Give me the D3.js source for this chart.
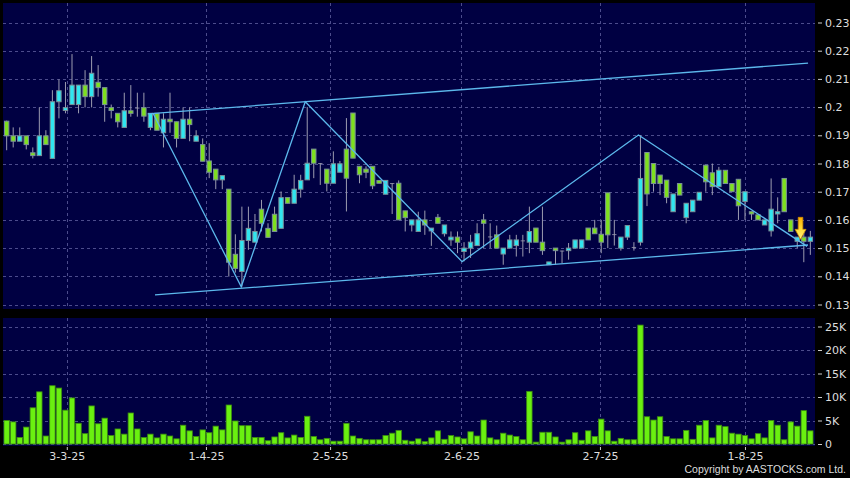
<!DOCTYPE html>
<html><head><meta charset="utf-8">
<script src="https://cdn.jsdelivr.net/npm/d3@7"></script>
<style>html,body{margin:0;padding:0;background:#000;}svg{display:block}</style>
</head><body>
<svg id="c" width="850" height="478"></svg>
<script>
// ---- data ----
const opens = [0.1950,0.1898,0.1879,0.1898,0.1838,0.1828,0.1898,0.1818,0.2019,0.1988,
0.2009,0.2009,0.2078,0.2037,0.2088,0.2069,0.1998,0.1978,0.1928,0.1987,
0.1998,0.1998,0.1928,0.1978,0.1909,0.1957,0.1948,0.1889,0.1957,0.1879,
0.1867,0.1809,0.1780,0.1742,0.1709,0.1478,0.1417,0.1527,0.1521,0.1638,
0.1570,0.1620,0.1570,0.1679,0.1659,0.1709,0.1742,0.1851,0.1801,0.1780,
0.1730,0.1769,0.1851,0.1979,0.1790,0.1780,0.1790,0.1740,0.1691,0.1730,
0.1730,0.1632,0.1582,0.1559,0.1600,0.1561,0.1609,0.1551,0.1529,0.1539,
0.1488,0.1500,0.1509,0.1600,0.1541,0.1547,0.1479,0.1500,0.1509,0.1527,
0.1521,0.1571,0.1521,0.1441,0.1500,0.1491,0.1491,0.1500,0.1500,0.1571,
0.1571,0.1549,0.1696,0.1549,0.1500,0.1539,0.1504,0.1521,0.1839,0.1800,
0.1759,0.1741,0.1629,0.1729,0.1608,0.1629,0.1670,0.1794,0.1767,0.1718,
0.1776,0.1729,0.1744,0.1665,0.1629,0.1618,0.1582,0.1561,0.1621,0.1747,
0.1600,0.1524,0.1539,0.1524];
const highs = [0.1952,0.1928,0.1928,0.1898,0.1857,0.1999,0.1918,0.2060,0.2098,0.2089,
0.2188,0.2078,0.2131,0.2181,0.2149,0.2069,0.2009,0.1978,0.2051,0.2078,
0.2051,0.2051,0.1978,0.1978,0.1978,0.2051,0.1948,0.1999,0.1999,0.1918,
0.1889,0.1872,0.1780,0.1757,0.1709,0.1549,0.1647,0.1647,0.1621,0.1671,
0.1588,0.1647,0.1701,0.1679,0.1760,0.1760,0.2000,0.1851,0.1801,0.1780,
0.1843,0.1809,0.1961,0.1979,0.1790,0.1790,0.1790,0.1740,0.1740,0.1730,
0.1740,0.1632,0.1600,0.1629,0.1633,0.1571,0.1621,0.1582,0.1559,0.1559,
0.1521,0.1547,0.1588,0.1621,0.1588,0.1580,0.1500,0.1547,0.1547,0.1547,
0.1647,0.1571,0.1647,0.1451,0.1500,0.1491,0.1518,0.1529,0.1529,0.1571,
0.1600,0.1600,0.1696,0.1600,0.1539,0.1580,0.1521,0.1900,0.1839,0.1800,
0.1759,0.1741,0.1692,0.1729,0.1659,0.1670,0.1698,0.1794,0.1800,0.1788,
0.1776,0.1729,0.1744,0.1700,0.1629,0.1618,0.1600,0.1747,0.1680,0.1747,
0.1600,0.1539,0.1565,0.1561];
const lows = [0.1847,0.1857,0.1879,0.1850,0.1818,0.1828,0.1867,0.1818,0.1960,0.1978,
0.2009,0.1978,0.1999,0.1999,0.2037,0.1948,0.1960,0.1928,0.1928,0.1966,
0.1966,0.1948,0.1918,0.1918,0.1857,0.1909,0.1857,0.1889,0.1879,0.1879,
0.1808,0.1748,0.1709,0.1709,0.1399,0.1413,0.1363,0.1494,0.1521,0.1559,
0.1538,0.1559,0.1570,0.1659,0.1659,0.1679,0.1742,0.1748,0.1724,0.1701,
0.1730,0.1769,0.1630,0.1819,0.1730,0.1748,0.1709,0.1730,0.1691,0.1621,
0.1600,0.1559,0.1559,0.1559,0.1547,0.1508,0.1588,0.1541,0.1508,0.1482,
0.1453,0.1465,0.1509,0.1500,0.1500,0.1500,0.1441,0.1500,0.1470,0.1470,
0.1482,0.1521,0.1476,0.1441,0.1441,0.1447,0.1459,0.1500,0.1500,0.1529,
0.1551,0.1482,0.1500,0.1509,0.1491,0.1529,0.1491,0.1509,0.1649,0.1700,
0.1688,0.1659,0.1629,0.1688,0.1588,0.1629,0.1670,0.1700,0.1688,0.1718,
0.1729,0.1700,0.1600,0.1600,0.1600,0.1600,0.1582,0.1541,0.1588,0.1629,
0.1559,0.1500,0.1450,0.1476];
const closes = [0.1898,0.1879,0.1898,0.1867,0.1828,0.1898,0.1867,0.2019,0.2058,0.1998,
0.2078,0.2078,0.2037,0.2120,0.2069,0.2009,0.1988,0.1948,0.1987,0.1978,
0.1998,0.1968,0.1978,0.1918,0.1957,0.1948,0.1889,0.1957,0.1938,0.1898,
0.1808,0.1769,0.1742,0.1757,0.1450,0.1428,0.1527,0.1570,0.1559,0.1588,
0.1538,0.1559,0.1679,0.1659,0.1709,0.1740,0.1801,0.1801,0.1801,0.1730,
0.1799,0.1799,0.1748,0.1819,0.1760,0.1769,0.1721,0.1730,0.1740,0.1730,
0.1600,0.1608,0.1600,0.1600,0.1582,0.1571,0.1588,0.1582,0.1539,0.1521,
0.1500,0.1521,0.1551,0.1588,0.1541,0.1500,0.1500,0.1529,0.1529,0.1527,
0.1559,0.1521,0.1491,0.1451,0.1491,0.1491,0.1500,0.1529,0.1529,0.1529,
0.1551,0.1521,0.1547,0.1549,0.1539,0.1580,0.1504,0.1747,0.1692,0.1729,
0.1729,0.1680,0.1692,0.1688,0.1659,0.1670,0.1698,0.1735,0.1718,0.1776,
0.1729,0.1700,0.1650,0.1700,0.1621,0.1600,0.1600,0.1638,0.1629,0.1629,
0.1559,0.1539,0.1524,0.1539];
// volume, thousands of shares
const volumesK = [5.0,4.7,1.4,3.6,7.7,11.1,1.7,12.4,11.9,7.2,
9.8,4.4,2.2,8.1,4.3,5.5,1.8,3.2,2.1,6.6,
3.2,1.4,2.1,1.3,2.1,1.7,1.1,4.0,2.8,1.6,
3.0,2.4,3.8,3.0,8.3,4.9,3.9,3.9,1.4,1.4,
0.7,1.5,2.4,1.3,1.9,1.4,5.9,1.6,0.9,1.2,
0.6,0.6,4.4,1.7,1.2,0.9,0.9,0.9,1.8,2.3,
2.9,0.8,0.6,1.1,
0.5,1.3,2.8,1.0,1.8,1.5,1.1,2.6,1.7,5.1,
1.3,0.9,2.3,1.9,1.6,0.9,11.2,0.4,2.5,2.5,
1.5,0.4,0.9,2.4,0.8,2.8,1.6,5.3,2.8,0.6,
1.2,0.9,0.9,25.3,5.8,5.1,5.8,1.6,1.1,1.1,
2.9,1.0,4.0,5.0,1.3,4.0,3.7,2.3,2.1,1.8,
1.1,2.2,1.3,5.0,4.0,0.9,4.7,3.8,7.1,2.8];
const priceTicks = [0.13,0.14,0.15,0.16,0.17,0.18,0.19,0.2,0.21,0.22,0.23];
const priceTickLabels = ["0.13","0.14","0.15","0.16","0.17","0.18","0.19","0.2","0.21","0.22","0.23"];
const volTicks = [0,5000,10000,15000,20000,25000];
const volTickLabels = ["0","5K","10K","15K","20K","25K"];
const dateLabels = ["3-3-25","1-4-25","2-5-25","2-6-25","2-7-25","1-8-25"];
const datePos = [9.2,30.5,49.5,69.6,90.8,113.0]; // position in trading-day index
const zigzag = [[22.4,0.1978],[35.9,0.1363],[45.7,0.2019],[69.7,0.1452],[96.7,0.1901],[122.5,0.1506]];
const channelUpper = [[21.6,0.1976],[122.65,0.2156]];
const channelLower = [[22.7,0.1334],[122.65,0.1511]];
const signalArrow = [121.5,0.1531];
const copyright = "Copyright by AASTOCKS.com Ltd.";

// ---- layout ----
const svg = d3.select("#c");
const P = {l:3, r:815, t:3, b:309};
const V = {t:318, b:446};
const n = opens.length;
const x = d3.scaleLinear().domain([-0.5, n-0.5]).range([3.4, 813.6]);
const yP = d3.scaleLinear().domain([0.13,0.23]).range([304.5,22.5]);
const yV = d3.scaleLinear().domain([0,25000]).range([444,326.5]);

const navy = "#000042", gridC = "#4c4c8c";
svg.append("rect").attr("width",850).attr("height",478).attr("fill","#000");
svg.append("rect").attr("x",P.l).attr("y",P.t).attr("width",P.r-P.l).attr("height",P.b-P.t).attr("fill",navy);
svg.append("rect").attr("x",P.l).attr("y",V.t).attr("width",P.r-P.l).attr("height",V.b-V.t).attr("fill",navy);

const defs = svg.append("defs");
defs.append("clipPath").attr("id","cp").append("rect").attr("x",P.l).attr("y",P.t).attr("width",P.r-P.l).attr("height",P.b-P.t);
defs.append("clipPath").attr("id","cv").append("rect").attr("x",P.l).attr("y",V.t).attr("width",P.r-P.l).attr("height",V.b-V.t);
const g1 = defs.append("linearGradient").attr("id","arrowG").attr("x1",0).attr("y1",0).attr("x2",0).attr("y2",1);
g1.append("stop").attr("offset","0").attr("stop-color","#ffb000");
g1.append("stop").attr("offset","0.6").attr("stop-color","#ffe040");
g1.append("stop").attr("offset","1").attr("stop-color","#fff080");

// grids
const grid = svg.append("g").attr("stroke",gridC).attr("stroke-dasharray","3,3").attr("stroke-width",1);
priceTicks.forEach(p=>grid.append("line").attr("x1",P.l).attr("x2",P.r).attr("y1",Math.round(yP(p))+0.5).attr("y2",Math.round(yP(p))+0.5));
volTicks.forEach(v=>grid.append("line").attr("x1",P.l).attr("x2",P.r).attr("y1",Math.round(yV(v))+0.5).attr("y2",Math.round(yV(v))+0.5));
datePos.forEach(d=>{
  const xx = Math.round(x(d))+0.5;
  grid.append("line").attr("x1",xx).attr("x2",xx).attr("y1",P.t).attr("y2",P.b);
  grid.append("line").attr("x1",xx).attr("x2",xx).attr("y1",V.t).attr("y2",V.b);
});

// candles
const idx = d3.range(n);
const cg = svg.append("g").attr("clip-path","url(#cp)");
cg.selectAll("line.w").data(idx).join("line").attr("class","w")
  .attr("x1",i=>x(i)).attr("x2",i=>x(i))
  .attr("y1",i=>yP(highs[i])).attr("y2",i=>yP(lows[i]))
  .attr("stroke","#9c9cb0").attr("stroke-width",1);
cg.selectAll("rect.b").data(idx).join("rect").attr("class","b")
  .attr("x",i=>x(i)-2.2).attr("width",4.4)
  .attr("y",i=>yP(Math.max(opens[i],closes[i])))
  .attr("height",i=>Math.max(0.8, Math.abs(yP(opens[i])-yP(closes[i]))))
  .attr("fill",i=>closes[i]>opens[i]?"#30e6f0":(closes[i]<opens[i]?"#7ee01e":"#9c9cb0"))
  .attr("stroke",i=>closes[i]===opens[i]?"none":"#7a9098")
  .attr("stroke-width",1);

// trend lines
const line = d3.line().x(d=>x(d[0])).y(d=>yP(d[1]));
[channelUpper, channelLower, zigzag].forEach(dat=>{
  cg.append("path").attr("d",line(dat)).attr("fill","none").attr("stroke","#5cb8ec").attr("stroke-width",1.3);
});

// arrow
const ax = x(signalArrow[0]), ay = yP(signalArrow[1]);
svg.append("path")
  .attr("d",`M${ax-2.3},${ay-22} L${ax+2.3},${ay-22} L${ax+2.3},${ay-10} L${ax+5.5},${ay-10} L${ax},${ay} L${ax-5.5},${ay-10} L${ax-2.3},${ay-10} Z`)
  .attr("fill","url(#arrowG)").attr("stroke","#d08a00").attr("stroke-width",0.8);

// volume bars
const vg = svg.append("g").attr("clip-path","url(#cv)");
vg.selectAll("rect").data(idx).join("rect")
  .attr("x",i=>x(i)-2.7).attr("width",5.4)
  .attr("y",i=>yV(volumesK[i]*1000)).attr("height",i=>yV(0)-yV(volumesK[i]*1000))
  .attr("fill","#6af010").attr("stroke","#3c8c10").attr("stroke-width",0.8);

// axes
const fontF = "'DejaVu Sans', sans-serif";
function styleAxis(g){
  g.select(".domain").remove();
  g.selectAll(".tick line").attr("stroke","#cccccc");
  g.selectAll(".tick text").attr("fill","#dddddd").style("font-family",fontF).style("font-size","11px");
}
svg.append("g").attr("transform","translate(818,0)")
  .call(d3.axisRight(yP).tickValues(priceTicks).tickSize(4).tickPadding(3).tickFormat((d,i)=>priceTickLabels[i]))
  .call(styleAxis);
svg.append("g").attr("transform","translate(818,0)")
  .call(d3.axisRight(yV).tickValues(volTicks).tickSize(4).tickPadding(3).tickFormat((d,i)=>volTickLabels[i]))
  .call(styleAxis);
svg.append("g").attr("transform",`translate(0,${V.b+1})`)
  .call(d3.axisBottom(x).tickValues(datePos).tickSize(3).tickPadding(2).tickFormat((d,i)=>dateLabels[i]))
  .call(styleAxis);

svg.append("text").attr("x",846).attr("y",473).attr("text-anchor","end")
  .attr("fill","#dddddd").style("font-family","'Liberation Sans Narrow','Liberation Sans',sans-serif")
  .style("font-size","10.5px").text(copyright);
</script>
</body></html>
